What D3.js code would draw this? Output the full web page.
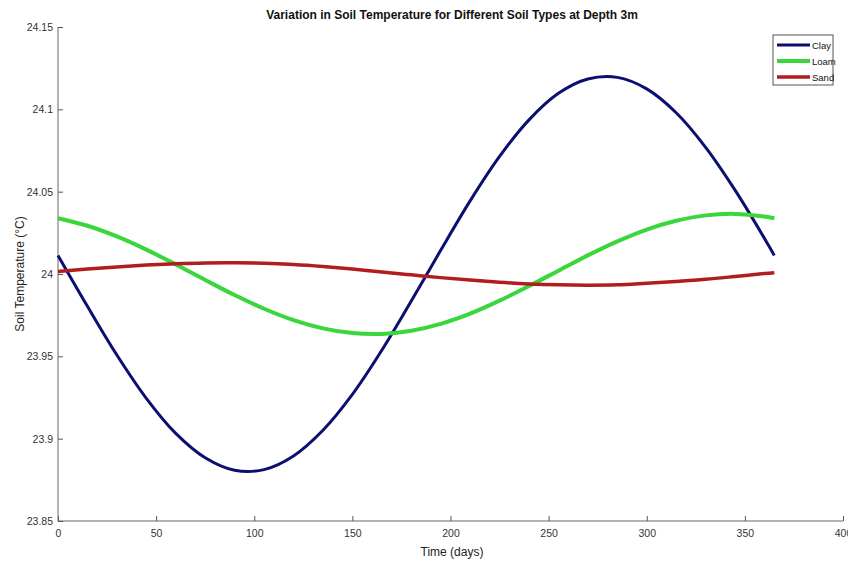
<!DOCTYPE html>
<html>
<head>
<meta charset="utf-8">
<script src="https://cdn.jsdelivr.net/npm/d3@7"></script>
<style>
 body { margin: 0; background: #fff; }
 text { font-family: "Liberation Sans", Arial, sans-serif; }
</style>
</head>
<body>
<div id="chart"></div>
<script>
(function(){

var width = 848,
	height = 565;

// days sampled along the curves
var days = [0,15,30,45,60,75,90,105,120,135,150,165,180,195,210,225,240,255,270,285,300,315,330,345,360,365];

var clay = [24.0113,23.9804,23.9508,23.9245,23.9032,23.8884,23.8808,23.8812,23.8895,23.9051,23.9269,23.9537,23.9836,
	24.0144,24.0444,24.0714,24.0936,24.1097,24.1184,24.1194,24.1124,24.0979,24.0769,24.0509,24.0216,24.0113];
var loam = [24.0339,24.0293,24.0228,24.0148,24.0058,23.9964,23.9872,23.9789,23.9720,23.9670,23.9641,23.9636,23.9655,
	23.9697,23.9759,23.9838,23.9927,24.0020,24.0113,24.0198,24.0270,24.0323,24.0356,24.0365,24.0349,24.0339];
var sand = [24.0015,24.0030,24.0043,24.0054,24.0062,24.0067,24.0068,24.0065,24.0057,24.0045,24.0030,24.0012,23.9995,
	23.9978,23.9963,23.9950,23.9940,23.9934,23.9932,23.9934,23.9944,23.9955,23.9968,23.9985,24.0003,24.0008];

var seriesNames = ["Clay", "Loam", "Sand"];
var seriesColors = ["#0b0f70", "#3bd63b", "#b11d1f"];
var seriesWidths = [3, 4, 3.5];

var xTicks = [0,50,100,150,200,250,300,350,400];
var yTicks = [23.85,23.9,23.95,24,24.05,24.1,24.15];

var svg = d3.select("#chart")
	.append("svg")
	.attr("width", width)
	.attr("height", height)

var x = d3.scaleLinear().domain([0, 400]).range([58, 843])
var y = d3.scaleLinear().domain([23.85, 24.15]).range([521, 27])

// axes (ticks pointing inward)
var xAxis = svg.append("g")
	.attr("transform", "translate(0," + y(23.85) + ")")
	.call(d3.axisBottom(x).tickValues(xTicks).tickSize(-5).tickPadding(9).tickFormat(d3.format("d")))
var yAxis = svg.append("g")
	.attr("transform", "translate(" + x(0) + ",0)")
	.call(d3.axisLeft(y).tickValues(yTicks).tickSize(-5).tickPadding(5).tickFormat(function(d){ return String(+d.toFixed(2)); }))

svg.selectAll(".domain").attr("stroke", "#666").attr("d", null)
xAxis.select(".domain").attr("d", "M" + x(0) + ",0H" + x(400))
yAxis.select(".domain").attr("d", "M0," + y(24.15) + "V" + y(23.85))
svg.selectAll(".tick line").attr("stroke", "#555")
svg.selectAll(".tick text").attr("fill", "#333").style("font-size", "10.5px")
yAxis.selectAll(".tick text").attr("x", -5)
xAxis.selectAll(".tick text").attr("y", 9)

// lines
var series = [clay, loam, sand];
var line = d3.line()
	.x(function(d, i){ return x(days[i]) })
	.y(function(d){ return y(d) })
	.curve(d3.curveCatmullRom)

series.forEach(function(vals, k){
	svg.append("path")
		.datum(vals)
		.attr("fill", "none")
		.attr("stroke", seriesColors[k])
		.attr("stroke-width", seriesWidths[k])
		.attr("stroke-linecap", "butt")
		.attr("d", line)
})

// title and labels
svg.append("text")
	.attr("x", 452).attr("y", 19)
	.attr("text-anchor", "middle")
	.style("font-size", "12px").style("font-weight", "bold")
	.attr("fill", "#111")
	.text("Variation in Soil Temperature for Different Soil Types at Depth 3m")

svg.append("text")
	.attr("x", 452).attr("y", 556)
	.attr("text-anchor", "middle")
	.style("font-size", "12px")
	.attr("fill", "#222")
	.text("Time (days)")

svg.append("text")
	.attr("transform", "translate(24," + 274 + ") rotate(-90)")
	.attr("text-anchor", "middle")
	.style("font-size", "12px")
	.attr("fill", "#222")
	.text("Soil Temperature (\u00B0C)")

// legend
var legend = svg.append("g").attr("transform", "translate(773,35)")
legend.append("rect")
	.attr("width", 60).attr("height", 50)
	.attr("fill", "#fff").attr("stroke", "#555").attr("stroke-width", 1)

seriesNames.forEach(function(name, k){
	var ly = 10 + k * 16
	legend.append("line")
		.attr("x1", 4).attr("x2", 37)
		.attr("y1", ly).attr("y2", ly)
		.attr("stroke", seriesColors[k])
		.attr("stroke-width", seriesWidths[k])
	legend.append("text")
		.attr("x", 39).attr("y", ly + 3.5)
		.style("font-size", "9.5px")
		.attr("fill", "#111")
		.text(name)
})

})();
</script>
</body>
</html>
